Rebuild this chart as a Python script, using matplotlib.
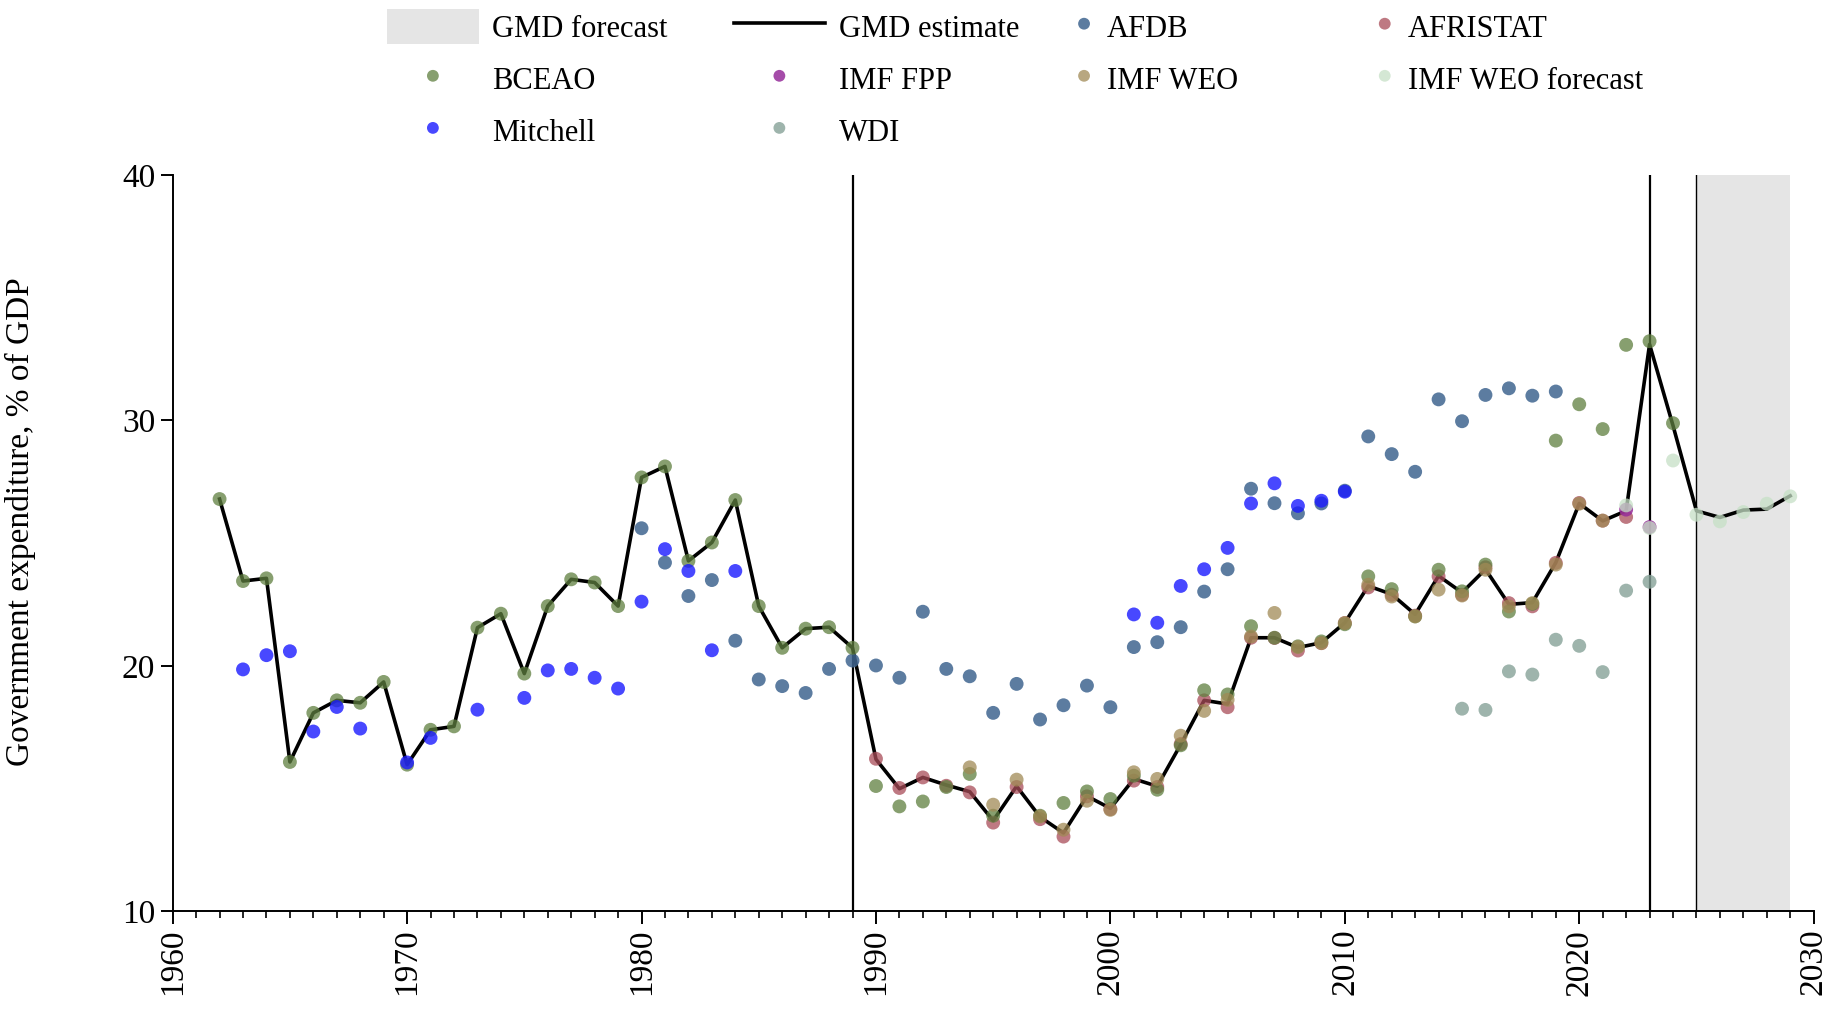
import matplotlib.pyplot as plt
from matplotlib.ticker import MultipleLocator
from matplotlib.patches import Patch
from matplotlib.lines import Line2D

plt.rcParams['font.family'] = ['Liberation Serif', 'DejaVu Serif']

# GMD estimate (line)
gmd_years = list(range(1962, 2030))
gmd_vals = [26.80, 23.46, 23.57, 16.09, 18.09, 18.60, 18.50, 19.35, 15.98, 17.40,
            17.54, 21.56, 22.13, 19.69, 22.44, 23.53, 23.40, 22.44, 27.68, 28.13,
            24.28, 25.03, 26.76, 22.44, 20.74, 21.52, 21.58, 20.74, 16.20, 15.00,
            15.46, 15.15, 14.88, 13.70, 15.10, 13.85, 13.20, 14.70, 14.20, 15.40,
            15.10, 16.80, 18.60, 18.45, 21.15, 21.15, 20.75, 20.95, 21.76, 23.26,
            22.92, 22.10, 23.67, 22.99, 23.94, 22.51, 22.58, 24.21, 26.62, 25.91,
            26.32, 33.10, 29.79, 26.32, 26.05, 26.35, 26.39, 26.93]

afdb_years = list(range(1980, 2020))
afdb_vals = [25.61, 24.21, 22.85, 23.50, 21.03, 19.45, 19.18, 18.90, 19.88, 20.22,
             20.02, 19.52, 22.21, 19.88, 19.58, 18.09, 19.27, 17.82, 18.40, 19.20,
             18.32, 20.77, 20.97, 21.58, 23.03, 23.94, 27.22, 26.63, 26.22, 26.62,
             27.14, 29.35, 28.63, 27.91, 30.86, 29.97, 31.04, 31.31, 31.01, 31.18]

afristat_years = list(range(1990, 2023))
afristat_vals = [16.22, 15.03, 15.46, 15.12, 14.85, 13.62, 15.07, 13.76, 13.05, 14.69,
                 14.17, 15.33, 15.07, 16.82, 18.60, 18.32, 21.15, 21.14, 20.63, 20.93,
                 21.75, 23.20, 22.90, 22.05, 23.65, 22.90, 24.02, 22.56, 22.43, 24.20,
                 26.64, 25.92, 26.07]

bceao_years = list(range(1962, 1996)) + list(range(1997, 2025))
bceao_vals = [26.80, 23.46, 23.57, 16.09, 18.09, 18.60, 18.50, 19.35, 15.98, 17.40,
              17.54, 21.56, 22.13, 19.69, 22.44, 23.53, 23.40, 22.44, 27.68, 28.13,
              24.28, 25.03, 26.76, 22.44, 20.74, 21.52, 21.58, 20.74, 15.11, 14.28,
              14.48, 15.07, 15.60, 13.90, 13.90, 14.42, 14.89, 14.58, 15.53, 14.96,
              16.77, 19.01, 18.84, 21.62, 21.15, 20.80, 21.00, 21.70, 23.65, 23.13,
              22.02, 23.92, 23.04, 24.13, 22.22, 22.53, 29.18, 30.66, 29.65, 33.08,
              33.23, 29.89]

imf_fpp_years = [2022, 2023]
imf_fpp_vals = [26.37, 25.66]

imf_weo_years = list(range(1994, 2022))
imf_weo_vals = [15.87, 14.35, 15.37, 13.87, 13.33, 14.51, 14.14, 15.67, 15.40, 17.16,
                18.17, 18.62, 21.20, 22.16, 20.77, 20.93, 21.75, 23.31, 22.83, 22.02,
                23.11, 22.87, 23.92, 22.43, 22.56, 24.13, 26.61, 25.92]

weo_fc_years = list(range(2022, 2030))
weo_fc_vals = [26.54, 25.62, 28.37, 26.16, 25.89, 26.27, 26.61, 26.91]

mitchell_years = [1963, 1964, 1965, 1966, 1967, 1968, 1970, 1971, 1973, 1975, 1976,
                  1977, 1978, 1979, 1980, 1981, 1982, 1983, 1984,
                  2001, 2002, 2003, 2004, 2005, 2006, 2007, 2008, 2009, 2010]
mitchell_vals = [19.86, 20.44, 20.60, 17.33, 18.33, 17.45, 16.07, 17.07, 18.22, 18.70,
                 19.82, 19.88, 19.52, 19.08, 22.62, 24.76, 23.87, 20.64, 23.87,
                 22.10, 21.76, 23.26, 23.94, 24.81, 26.62, 27.44, 26.52, 26.73, 27.10]

wdi_years = list(range(2015, 2024))
wdi_vals = [18.26, 18.21, 19.78, 19.65, 21.07, 20.82, 19.75, 23.07, 23.43]

sources = [
    ('AFDB', afdb_years, afdb_vals, '#3f6590', 0.85),
    ('AFRISTAT', afristat_years, afristat_vals, '#a84c58', 0.75),
    ('BCEAO', bceao_years, bceao_vals, '#5f7f3f', 0.75),
    ('IMF FPP', imf_fpp_years, imf_fpp_vals, '#962d9a', 0.85),
    ('IMF WEO', imf_weo_years, imf_weo_vals, '#a08a55', 0.75),
    ('IMF WEO forecast', weo_fc_years, weo_fc_vals, '#c6e0c6', 0.75),
    ('Mitchell', mitchell_years, mitchell_vals, '#1a1aff', 0.8),
    ('WDI', wdi_years, wdi_vals, '#86a298', 0.8),
]

fig = plt.figure(figsize=(18.37, 10.15), dpi=100)
ax = fig.add_axes([0.094, 0.102, 0.8933, 0.7256])

ax.axvspan(2025, 2029, color='#e5e5e5', lw=0, zorder=0)
ax.axvline(2025, color='black', lw=1.0, zorder=1)
ax.axvline(1989, color='black', lw=1.6, zorder=1)
ax.axvline(2023, color='black', lw=1.6, zorder=1)

ax.plot(gmd_years, gmd_vals, color='black', lw=2.6, zorder=2)

handles = {}
for name, yrs, vals, col, a in sources:
    handles[name] = ax.scatter(yrs, vals, s=100, color=col, alpha=a,
                               edgecolors='none', zorder=3)

ax.set_xlim(1960, 2030)
ax.set_ylim(10, 40)
ax.xaxis.set_major_locator(MultipleLocator(10))
ax.xaxis.set_minor_locator(MultipleLocator(1))
ax.yaxis.set_major_locator(MultipleLocator(10))
ax.tick_params(axis='both', which='major', length=9, width=1.4, labelsize=24)
ax.tick_params(axis='x', which='minor', length=5, width=1.2)
ax.tick_params(axis='x', labelrotation=90)
for s in ['top', 'right']:
    ax.spines[s].set_visible(False)
for s in ['left', 'bottom']:
    ax.spines[s].set_linewidth(1.4)

ax.set_ylabel('Government expenditure, % of GDP', fontsize=24)
ax.yaxis.set_label_coords(-0.083, 0.53)

fc_patch = Patch(facecolor='#e5e5e5', edgecolor='none')
gmd_line = Line2D([], [], color='black', lw=2.6)

leg_kw = dict(frameon=False, fontsize=22, handleheight=1.4, labelspacing=0.55,
              borderpad=0, borderaxespad=0, markerscale=0.85, ncol=2)
leg1 = fig.legend([fc_patch, handles['BCEAO'], handles['Mitchell'],
                   gmd_line, handles['IMF FPP'], handles['WDI']],
                  ['GMD forecast', 'BCEAO', 'Mitchell',
                   'GMD estimate', 'IMF FPP', 'WDI'],
                  loc='upper left', bbox_to_anchor=(0.2107, 0.991),
                  handlelength=3.0, handletextpad=0.45, columnspacing=2.15, **leg_kw)
leg2 = fig.legend([handles['AFDB'], handles['IMF WEO'],
                   handles['AFRISTAT'], handles['IMF WEO forecast']],
                  ['AFDB', 'IMF WEO', 'AFRISTAT', 'IMF WEO forecast'],
                  loc='upper left', bbox_to_anchor=(0.5818, 0.991),
                  handlelength=1.0, handletextpad=0.25, columnspacing=4.3, **leg_kw)

fig.savefig('out.png', dpi=100)
